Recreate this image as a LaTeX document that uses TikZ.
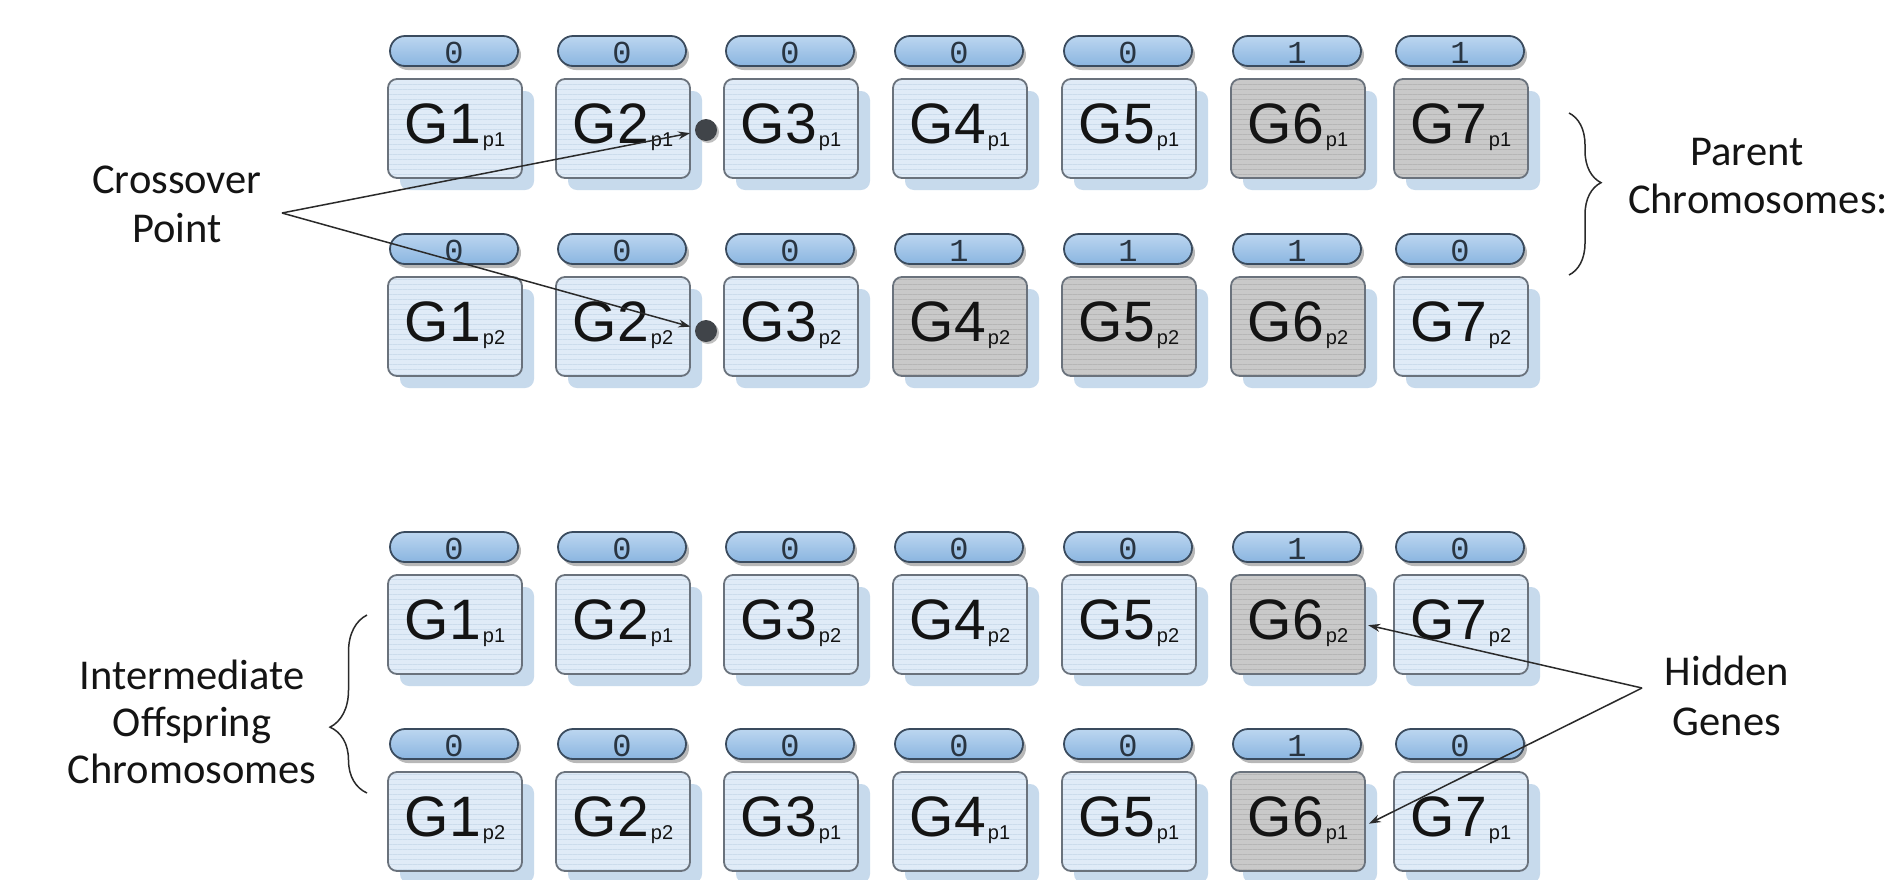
\documentclass[tikz,border=0pt]{standalone}
\usepackage{fontspec}
\newfontfamily\genefont{Liberation Sans}
\newfontfamily\pillfont{Liberation Mono}
\newfontfamily\labfont{Carlito}
\usetikzlibrary{shapes.misc,shadows,arrows.meta,decorations.pathreplacing,patterns.meta}
\definecolor{boxblueT}{HTML}{E0EBF7}
\definecolor{stripeblue}{HTML}{CCDCEC}
\definecolor{boxgrayT}{HTML}{C9C9C9}
\definecolor{stripegray}{HTML}{B6B6B6}
\definecolor{shadowblue}{HTML}{C7DAEC}
\definecolor{boxedge}{HTML}{6A727C}
\definecolor{pillT}{HTML}{BCD6F0}
\definecolor{pillB}{HTML}{8AB5E0}
\definecolor{pilledge}{HTML}{3A4B5E}
\definecolor{inkc}{HTML}{141414}
\definecolor{dotc}{HTML}{404449}
\definecolor{linec}{HTML}{2A2A2A}
\newcommand\genelabel[2]{{\fontsize{57pt}{57pt}\selectfont G#1}\kern2pt{\fontsize{20pt}{20pt}\selectfont\raisebox{-3pt}{p#2}}}
\tikzset{
  genebox/.style={rectangle, rounded corners=9pt, minimum width=134pt, minimum height=99pt,
    inner sep=0pt, text height=42pt, text depth=12pt,
    text=inkc, font=\genefont,
    drop shadow={shadow xshift=12pt, shadow yshift=-12pt, fill=shadowblue, opacity=1}},
  bluebox/.style={genebox, fill=boxblueT,
    postaction={pattern={Lines[angle=0,distance=5pt,line width=0.8pt]}, pattern color=stripeblue},
    postaction={draw=boxedge, line width=1.8pt}},
  graybox/.style={genebox, fill=boxgrayT,
    postaction={pattern={Lines[angle=0,distance=5pt,line width=0.8pt]}, pattern color=stripegray},
    postaction={draw=boxedge, line width=1.8pt}},
  pill/.style={rounded rectangle, minimum width=128pt, minimum height=30pt, inner sep=0pt,
    draw=pilledge, line width=1.8pt, top color=pillT, bottom color=pillB,
    text=pilledge!70!black, font=\pillfont\fontsize{32pt}{32pt}\selectfont,
    text height=24pt, text depth=0pt,
    drop shadow={shadow xshift=3pt, shadow yshift=-4pt, fill=black!28, opacity=1}},
  crossdot/.style={circle, fill=dotc, minimum size=22pt, inner sep=0pt,
    drop shadow={shadow xshift=2pt, shadow yshift=-2pt, fill=black!25, opacity=1}},
  lab/.style={font=\labfont\fontsize{42.5pt}{49pt}\selectfont, text=inkc, inner sep=0pt, anchor=base},
  ptr/.style={draw=linec, line width=1.5pt, -{Stealth[length=12pt,width=8pt]}},
  bracestyle/.style={draw=linec, line width=1.5pt, decorate},
}
\newcommand\genecell[6]{%
  \node[#4] (#1) at (#2,#3) {\genelabel{#5}{#6}};
}
\newcommand\bitcell[4]{%
  \node[pill] (#1) at ({#2-1},{#3-77.5}) {#4};
}
\begin{document}
\begin{tikzpicture}[x=1pt,y=-1pt]
\useasboundingbox[fill=white] (0,0) rectangle (1889,879);

% Row 1: parent 1
\bitcell{b11}{455}{128.5}{0}\genecell{g11}{455}{128.5}{bluebox}{1}{1}
\bitcell{b12}{623}{128.5}{0}\genecell{g12}{623}{128.5}{bluebox}{2}{1}
\bitcell{b13}{791}{128.5}{0}\genecell{g13}{791}{128.5}{bluebox}{3}{1}
\bitcell{b14}{960}{128.5}{0}\genecell{g14}{960}{128.5}{bluebox}{4}{1}
\bitcell{b15}{1129}{128.5}{0}\genecell{g15}{1129}{128.5}{bluebox}{5}{1}
\bitcell{b16}{1298}{128.5}{1}\genecell{g16}{1298}{128.5}{graybox}{6}{1}
\bitcell{b17}{1461}{128.5}{1}\genecell{g17}{1461}{128.5}{graybox}{7}{1}

% Row 2: parent 2
\bitcell{b21}{455}{326.5}{0}\genecell{g21}{455}{326.5}{bluebox}{1}{2}
\bitcell{b22}{623}{326.5}{0}\genecell{g22}{623}{326.5}{bluebox}{2}{2}
\bitcell{b23}{791}{326.5}{0}\genecell{g23}{791}{326.5}{bluebox}{3}{2}
\bitcell{b24}{960}{326.5}{1}\genecell{g24}{960}{326.5}{graybox}{4}{2}
\bitcell{b25}{1129}{326.5}{1}\genecell{g25}{1129}{326.5}{graybox}{5}{2}
\bitcell{b26}{1298}{326.5}{1}\genecell{g26}{1298}{326.5}{graybox}{6}{2}
\bitcell{b27}{1461}{326.5}{0}\genecell{g27}{1461}{326.5}{bluebox}{7}{2}

% Row 3: offspring 1
\bitcell{b31}{455}{624.5}{0}\genecell{g31}{455}{624.5}{bluebox}{1}{1}
\bitcell{b32}{623}{624.5}{0}\genecell{g32}{623}{624.5}{bluebox}{2}{1}
\bitcell{b33}{791}{624.5}{0}\genecell{g33}{791}{624.5}{bluebox}{3}{2}
\bitcell{b34}{960}{624.5}{0}\genecell{g34}{960}{624.5}{bluebox}{4}{2}
\bitcell{b35}{1129}{624.5}{0}\genecell{g35}{1129}{624.5}{bluebox}{5}{2}
\bitcell{b36}{1298}{624.5}{1}\genecell{g36}{1298}{624.5}{graybox}{6}{2}
\bitcell{b37}{1461}{624.5}{0}\genecell{g37}{1461}{624.5}{bluebox}{7}{2}

% Row 4: offspring 2
\bitcell{b41}{455}{821.5}{0}\genecell{g41}{455}{821.5}{bluebox}{1}{2}
\bitcell{b42}{623}{821.5}{0}\genecell{g42}{623}{821.5}{bluebox}{2}{2}
\bitcell{b43}{791}{821.5}{0}\genecell{g43}{791}{821.5}{bluebox}{3}{1}
\bitcell{b44}{960}{821.5}{0}\genecell{g44}{960}{821.5}{bluebox}{4}{1}
\bitcell{b45}{1129}{821.5}{0}\genecell{g45}{1129}{821.5}{bluebox}{5}{1}
\bitcell{b46}{1298}{821.5}{1}\genecell{g46}{1298}{821.5}{graybox}{6}{1}
\bitcell{b47}{1461}{821.5}{0}\genecell{g47}{1461}{821.5}{bluebox}{7}{1}

% crossover points
\node[crossdot] (x1) at (706,130) {};
\node[crossdot] (x2) at (706,331) {};

% labels
\node[lab] (cp1) at (177,193) {Crossover};
\node[lab] (cp2) at (177,242) {Point};
\node[lab] (pc1) at (1747,165) {Parent};
\node[lab] (pc2) at (1758,213) {Chromosomes:};
\node[lab] (io1) at (192,689) {Intermediate};
\node[lab] (io2) at (192,736) {Offspring};
\node[lab] (io3) at (192,783) {Chromosomes};
\node[lab] (hg1) at (1727,685) {Hidden};
\node[lab] (hg2) at (1727,735) {Genes};

% braces
\draw[bracestyle, decoration={brace, amplitude=32pt, aspect=0.43}] (1569,113) -- (1569,275);
\draw[bracestyle, decoration={brace, amplitude=37pt, aspect=0.37}] (367,793) -- (367,615);

% pointers
\coordinate (cx) at (282,213);
\coordinate (hx) at (1642,688);
\draw[ptr, shorten >=5pt] (cx) -- (x1);
\draw[ptr, shorten >=5pt] (cx) -- (x2);
\draw[ptr, shorten >=3pt] (hx) -- (g36.east);
\draw[ptr, shorten >=4pt] (hx) -- ([yshift=-4pt]g46.east);
\end{tikzpicture}
\end{document}
